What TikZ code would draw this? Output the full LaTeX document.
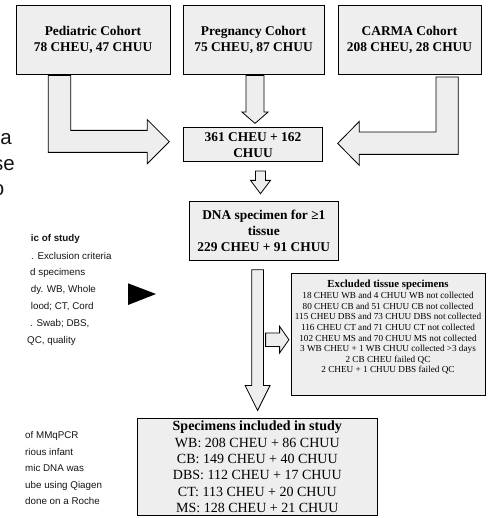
\documentclass[tikz,border=0pt]{standalone}
\usepackage{fontspec}
\setmainfont{Liberation Serif}
\newfontfamily\slidefont{Liberation Sans}
\usetikzlibrary{positioning, calc}
\definecolor{boxgray}{RGB}{238,238,238}
\definecolor{slidetext}{RGB}{20,20,20}

\begin{document}
\begin{tikzpicture}[x=1pt, y=-1pt,
        cohort/.style={rectangle, draw, fill=boxgray, line width=0.8pt, inner sep=0pt, align=center, font=\fontsize{13.4}{16}\selectfont\bfseries},
        blockarrow/.style={draw, fill=boxgray, line width=0.8pt, line join=miter},
        slide/.style={font=\slidefont\fontsize{9.8}{11}\selectfont, text=slidetext, anchor=base west, inner sep=0pt},
        bigslide/.style={font=\slidefont\fontsize{20.5}{24}\selectfont, text=slidetext, anchor=base east, inner sep=0pt}
    ]
        \useasboundingbox (0,0) rectangle (491,518);
        \clip (0,0) rectangle (491,518);

        % slide text showing behind the figure
        \node[bigslide] (sa) at (12,145) {a};
        \node[bigslide] (sse) at (15,170.7) {se};
        \node[bigslide] (so) at (4.5,196) {o};
        \node[slide, font=\slidefont\bfseries\fontsize{9.8}{11}\selectfont] (s1) at (30.7,241) {ic of study};
        \node[slide] (s2) at (31,259) {. Exclusion criteria};
        \node[slide] (s3) at (30,275.7) {d specimens};
        \node[slide] (s4) at (30.7,292.4) {dy. WB, Whole};
        \node[slide] (s5) at (30.7,309.5) {lood; CT, Cord};
        \node[slide] (s6) at (30,326.2) {. Swab; DBS,};
        \node[slide] (s7) at (27,343.2) {QC, quality};
        \node[slide] (s8) at (25,438) {of MMqPCR};
        \node[slide] (s9) at (25,455) {rious infant};
        \node[slide] (s10) at (25,471.5) {mic DNA was};
        \node[slide] (s11) at (25,488) {ube using Qiagen};
        \node[slide] (s12) at (25,504.5) {done on a Roche};
        \fill[black] (128,283.3) -- (156,294) -- (128,305) -- cycle;

        % boxes
        \node[cohort, minimum width=154pt, minimum height=69pt] (ped) at (93,39.5) {Pediatric Cohort\\78 CHEU, 47 CHUU};
        \node[cohort, minimum width=141pt, minimum height=69pt] (preg) at (253.5,39.5) {Pregnancy Cohort\\75 CHEU, 87 CHUU};
        \node[cohort, minimum width=143pt, minimum height=69pt] (carma) at (409.5,39.5) {CARMA Cohort\\208 CHEU, 28 CHUU};
        \node[cohort, minimum width=139.4pt, minimum height=34pt] (total) at (253,144.7) {361 CHEU + 162\\CHUU};
        \node[cohort, minimum width=149pt, minimum height=59pt] (dna) at (263.8,230.5) {DNA specimen for ≥1\\tissue\\229 CHEU + 91 CHUU};
        \node[cohort, minimum width=194pt, minimum height=121.7pt] (excl) at (388,334.2) {};
        \node[anchor=north, inner sep=0pt, font=\fontsize{10.8}{12}\selectfont\bfseries] (excltitle) at ($(excl.north)+(0,6.5)$) {Excluded tissue specimens};
        \node[below=2.5pt of excltitle, inner sep=0pt, align=center, font=\fontsize{9.2}{10.6}\selectfont] (excllist) {18 CHEU WB and 4 CHUU WB not collected\\80 CHEU CB and 51 CHUU CB not collected\\115 CHEU DBS and 73 CHUU DBS not collected\\116 CHEU CT and 71 CHUU CT not collected\\102 CHEU MS and 70 CHUU MS not collected\\3 WB CHEU + 1 WB CHUU collected >3 days\\2 CB CHEU failed QC\\2 CHEU + 1 CHUU DBS failed QC};
        \node[cohort, minimum width=240pt, minimum height=97.2pt, font=\fontsize{14}{16.3}\selectfont] (incl) at (257.3,466.9) {\textbf{Specimens included in study}\\WB: 208 CHEU + 86 CHUU\\CB: 149 CHEU + 40 CHUU\\DBS: 112 CHEU + 17 CHUU\\CT: 113 CHEU + 20 CHUU\\MS: 128 CHEU + 21 CHUU};

        % block arrows
        \draw[blockarrow] ($(ped.south)+(-44.7,1)$) -- ++(22.4,0) -- ++(0,55) -- ++(76.6,0) -- ++(0,-10.7) -- ++(22,22) -- ++(-22,22) -- ++(0,-11.3) -- ++(-99,0) -- cycle;
        \draw[blockarrow] ($(preg.south)+(-7.5,1)$) -- ++(18,0) -- ++(0,36.7) -- ++(4,0) -- ++(-13,11.3) -- ++(-13,-11.3) -- ++(4,0) -- cycle;
        \draw[blockarrow] ($(carma.south)+(26.5,2.7)$) -- ++(22.3,0) -- ++(0,77.3) -- ++(-99,0) -- ++(0,11) -- ++(-21.6,-22) -- ++(21.6,-22) -- ++(0,10.7) -- ++(76.7,0) -- cycle;
        \draw[blockarrow] ($(total.south)+(2.5,9)$) -- ++(10,0) -- ++(0,9.3) -- ++(5,0) -- ++(-10,13.3) -- ++(-10,-13.3) -- ++(5,0) -- cycle;
        \draw[blockarrow] ($(dna.south)+(-12,9.3)$) -- ++(11.6,0) -- ++(0,115.7) -- ++(6.7,0) -- ++(-12.5,25) -- ++(-12.5,-25) -- ++(6.7,0) -- cycle;
        \draw[blockarrow] ($(excl.west)+(-25,-1.2)$) -- ++(14,0) -- ++(0,-6.6) -- ++(9.3,13.3) -- ++(-9.3,13.3) -- ++(0,-6.6) -- ++(-14,0) -- cycle;
    \end{tikzpicture}
\end{document}
